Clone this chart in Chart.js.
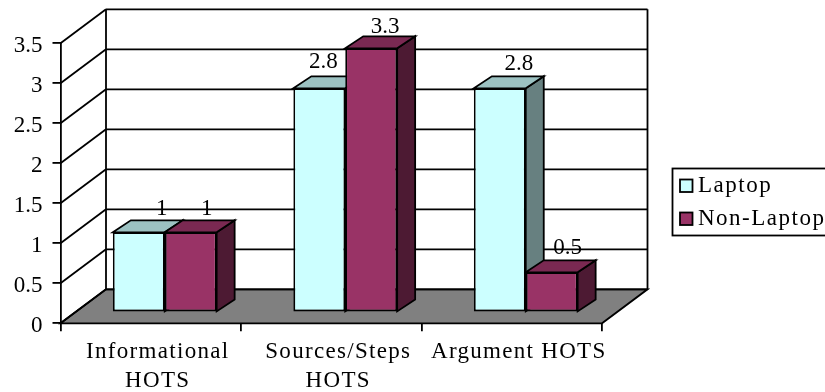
<!DOCTYPE html>
<html>
<head>
<meta charset="utf-8">
<style>
html, body { margin: 0; padding: 0; background: #fff; overflow: hidden; }
canvas { display: block; }
</style>
<script src="https://cdn.jsdelivr.net/npm/chart.js@4/dist/chart.umd.min.js"></script>
</head>
<body>
<canvas id="chart" width="825" height="392"></canvas>
<script>
const categories = [['Informational', 'HOTS'], ['Sources/Steps', 'HOTS'], 'Argument HOTS'];
const laptopValues = [1, 2.8, 2.8];
const nonLaptopValues = [1, 3.3, 0.5];
const seriesNames = ['Laptop', 'Non-Laptop'];
const seriesColors = ['#CCFFFF', '#993366'];
const topColors = ['#9CC2C2', '#7A2952'];
const sideColors = ['#678080', '#4D1A33'];

const FONT = '"Liberation Serif", "Times New Roman", serif';
const LINE = 1.8;
const WALL = { dx: 45.5, dy: -34 };     // depth of the chart box
const BAR_POS = { dx: 14, dy: -11 };    // bars stand a bit behind the front edge
const BAR_DEPTH = { dx: 18, dy: -12 };

// small hand nudges of the value labels, per series then category
const labelNudgeX = [[7, -12, 3], [0, -2, 0]];
const labelNudgeY = [[1, -2, 0], [1, 3, 0]];

function poly(ctx, pts, fill) {
    ctx.beginPath();
    pts.forEach((p, i) => i ? ctx.lineTo(p[0], p[1]) : ctx.moveTo(p[0], p[1]));
    ctx.closePath();
    if (fill) {
        ctx.fillStyle = fill;
        ctx.fill();
    }
    ctx.stroke();
}

function line(ctx, x1, y1, x2, y2) {
    ctx.beginPath();
    ctx.moveTo(x1, y1);
    ctx.lineTo(x2, y2);
    ctx.stroke();
}

const box3d = {
    id: 'box3d',
    beforeDraw(chart) {
        // only the category labels are letter-spaced
        const x = chart.scales.x, ctx = chart.ctx;
        if (!x.__spaced) {
            const drawLabels = x.drawLabels;
            x.drawLabels = function (area) {
                ctx.letterSpacing = '1.3px';
                drawLabels.call(this, area);
                ctx.letterSpacing = '0px';
            };
            x.__spaced = true;
        }
    },
    beforeDatasetsDraw(chart) {
        const ctx = chart.ctx, a = chart.chartArea, y = chart.scales.y;
        ctx.save();
        ctx.strokeStyle = '#000';
        ctx.lineWidth = LINE;
        ctx.lineJoin = 'miter';

        // floor
        poly(ctx, [
            [a.left, a.bottom],
            [a.left + WALL.dx, a.bottom + WALL.dy],
            [a.right + WALL.dx, a.bottom + WALL.dy],
            [a.right, a.bottom]
        ], '#808080');

        // side and back wall lines
        y.ticks.forEach(t => {
            const py = y.getPixelForValue(t.value);
            line(ctx, a.left, py, a.left + WALL.dx, py + WALL.dy);
            line(ctx, a.left + WALL.dx, py + WALL.dy, a.right + WALL.dx, py + WALL.dy);
        });
        line(ctx, a.left + WALL.dx, a.top + WALL.dy, a.left + WALL.dx, a.bottom + WALL.dy);
        line(ctx, a.right + WALL.dx, a.top + WALL.dy, a.right + WALL.dx, a.bottom + WALL.dy);

        // top and side faces of the bars, fronts come from the library afterwards
        ctx.translate(BAR_POS.dx, BAR_POS.dy);
        chart.data.datasets.forEach((ds, d) => {
            chart.getDatasetMeta(d).data.forEach(bar => {
                const l = bar.x - bar.width / 2, r = bar.x + bar.width / 2;
                const dx = BAR_DEPTH.dx, dy = BAR_DEPTH.dy;
                poly(ctx, [[r, bar.y], [r + dx, bar.y + dy], [r + dx, bar.base + dy], [r, bar.base]], sideColors[d]);
                poly(ctx, [[l, bar.y], [l + dx, bar.y + dy], [r + dx, bar.y + dy], [r, bar.y]], topColors[d]);
            });
        });
        ctx.restore();
    },
    beforeDatasetDraw(chart) {
        chart.ctx.save();
        chart.ctx.translate(BAR_POS.dx, BAR_POS.dy);
    },
    afterDatasetDraw(chart) {
        chart.ctx.restore();
    },
    afterDatasetsDraw(chart) {
        const ctx = chart.ctx;
        ctx.save();
        ctx.fillStyle = '#000';
        ctx.font = '23px ' + FONT;
        ctx.textAlign = 'center';
        ctx.textBaseline = 'alphabetic';
        chart.data.datasets.forEach((ds, d) => {
            chart.getDatasetMeta(d).data.forEach((bar, i) => {
                const tx = bar.x + BAR_POS.dx + 16 + labelNudgeX[d][i];
                const ty = bar.y + BAR_POS.dy - 18.5 + labelNudgeY[d][i];
                ctx.fillText(String(ds.data[i]), tx, ty);
            });
        });
        ctx.restore();
    },
    afterDraw(chart) {
        // legend box runs off the right edge of the page
        const ctx = chart.ctx;
        ctx.save();
        ctx.strokeStyle = '#000';
        ctx.lineWidth = LINE;
        ctx.strokeRect(672.5, 168.5, 170, 67);
        ctx.font = '23px ' + FONT;
        ctx.letterSpacing = '1.5px';
        ctx.textBaseline = 'alphabetic';
        ctx.textAlign = 'left';
        chart.data.datasets.forEach((ds, d) => {
            const top = 179.5 + d * 33;
            ctx.fillStyle = ds.backgroundColor;
            ctx.fillRect(680, top, 12.5, 12.5);
            ctx.strokeRect(680, top, 12.5, 12.5);
            ctx.fillStyle = '#000';
            ctx.fillText(ds.label, 698, top + 12.5 + d * -0.5);
        });
        ctx.restore();
    }
};

new Chart(document.getElementById('chart'), {
    type: 'bar',
    data: {
        labels: categories,
        datasets: [
            { label: seriesNames[0], data: laptopValues, backgroundColor: seriesColors[0] },
            { label: seriesNames[1], data: nonLaptopValues, backgroundColor: seriesColors[1] }
        ]
    },
    options: {
        responsive: false,
        animation: false,
        layout: { padding: { left: 0, top: 43.3, right: 223, bottom: 0 } },
        datasets: {
            bar: {
                categoryPercentage: 0.575,
                barPercentage: 1,
                borderColor: '#000',
                borderWidth: LINE,
                borderSkipped: false,
                clip: false
            }
        },
        plugins: {
            legend: { display: false },
            tooltip: { enabled: false }
        },
        scales: {
            x: {
                afterFit: scale => { scale.height = 68.7; },
                border: { color: '#000', width: LINE },
                grid: { drawOnChartArea: false, color: '#000', lineWidth: LINE, tickLength: 8, tickColor: '#000' },
                ticks: {
                    color: '#000',
                    maxRotation: 0,
                    autoSkip: false,
                    padding: 6.5,
                    labelOffset: 7,
                    font: { family: FONT, size: 23, lineHeight: 1.26 }
                }
            },
            y: {
                min: 0,
                max: 3.5,
                afterFit: scale => { scale.width = 60.5; },
                border: { color: '#000', width: LINE },
                grid: { drawOnChartArea: false, color: '#000', lineWidth: LINE, tickLength: 8, tickColor: '#000' },
                ticks: {
                    stepSize: 0.5,
                    color: '#000',
                    padding: 10,
                    labelOffset: 2.5,
                    font: { family: FONT, size: 23 },
                    callback: value => String(value)
                }
            }
        }
    },
    plugins: [box3d]
});
</script>
</body>
</html>
